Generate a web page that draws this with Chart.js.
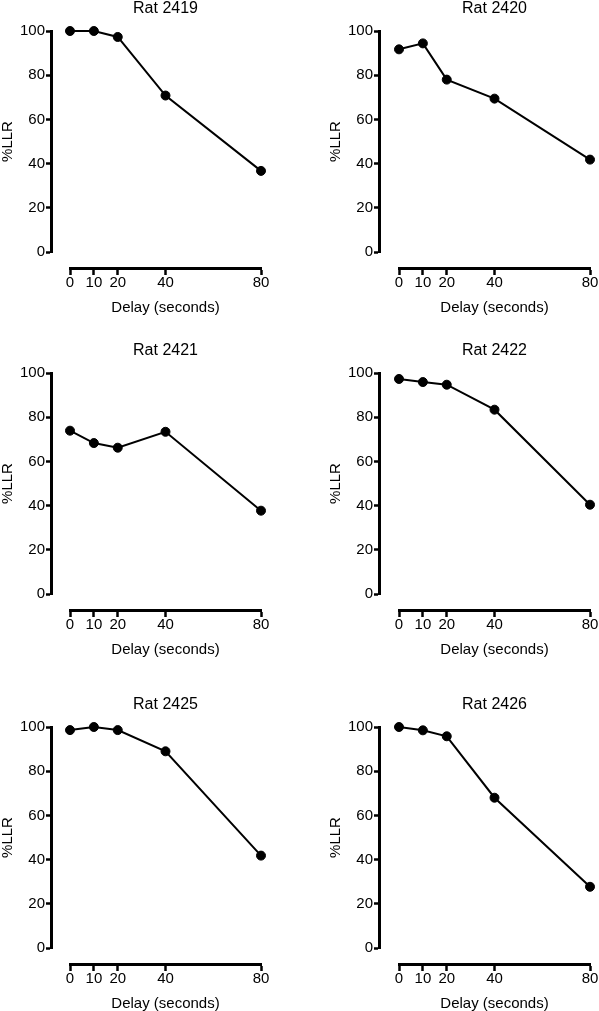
<!DOCTYPE html>
<html>
<head>
<meta charset="utf-8">
<script src="https://cdn.jsdelivr.net/npm/chart.js@4.4.1/dist/chart.umd.min.js"></script>
<style>
  html, body { margin: 0; padding: 0; background: #fff; }
  body { width: 599px; height: 1011px; overflow: hidden; position: relative; }
  canvas { position: absolute; }
</style>
</head>
<body>
<canvas id="p0" width="275" height="326"></canvas>
<canvas id="p1" width="275" height="326"></canvas>
<canvas id="p2" width="275" height="326"></canvas>
<canvas id="p3" width="275" height="326"></canvas>
<canvas id="p4" width="275" height="326"></canvas>
<canvas id="p5" width="275" height="326"></canvas>
<script>
// Datos
const delays = [0, 10, 20, 40, 80];
const xTickValues = [0, 10, 20, 40, 80];
const ratNames = ['Rat 2419', 'Rat 2420', 'Rat 2421', 'Rat 2422', 'Rat 2425', 'Rat 2426'];
const rat2419 = [100, 100, 97.3, 70.8, 36.7];
const rat2420 = [91.7, 94.4, 78.0, 69.4, 41.8];
const rat2421 = [73.9, 68.3, 66.2, 73.4, 37.7];
const rat2422 = [97.3, 95.9, 94.7, 83.4, 40.4];
const rat2425 = [98.6, 100, 98.6, 89.0, 41.8];
const rat2426 = [100, 98.5, 95.8, 68.0, 27.7];
const ratValues = [rat2419, rat2420, rat2421, rat2422, rat2425, rat2426];

const FONT = '"Liberation Sans", Arial, Helvetica, sans-serif';
const colLeft = [0, 329];
const colGap = [19, 20];       // separación entre el eje Y y el punto x=0
const rowTop = [-9, 333, 687];

// Desplaza el eje Y a la izquierda del área de datos (estilo Prism)
const shiftYAxis = {
    id: 'shiftYAxis',
    afterLayout(chart) {
        const gap = chart.options.plugins.shiftYAxis.gap;
        const y = chart.scales.y;
        y.left -= gap;
        y.right -= gap;
    }
};

function makePanel(i) {
    const canvas = document.getElementById('p' + i);
    const col = i % 2;
    canvas.style.left = colLeft[col] + 'px';
    canvas.style.top = rowTop[Math.floor(i / 2)] + 'px';

    const points = delays.map((d, k) => ({ x: d, y: ratValues[i][k] }));

    new Chart(canvas.getContext('2d'), {
        type: 'line',
        data: {
            datasets: [{
                data: points,
                borderColor: '#000',
                borderWidth: 2,
                pointBackgroundColor: '#000',
                pointBorderColor: '#000',
                pointBorderWidth: 1,
                pointRadius: 4.5,
                tension: 0,
                clip: false
            }]
        },
        plugins: [shiftYAxis],
        options: {
            responsive: false,
            animation: false,
            events: [],
            // área de datos empieza en x=70 (56 px de eje Y + 14 de margen)
            layout: { padding: { left: 14, right: 14, top: 0, bottom: 65 } },
            plugins: {
                shiftYAxis: { gap: colGap[col] },
                legend: { display: false },
                tooltip: { enabled: false },
                title: {
                    display: true,
                    fullSize: false,
                    text: ratNames[i],
                    color: '#000',
                    font: { family: FONT, size: 16, weight: 'normal' },
                    padding: { top: 8, bottom: 12.8 }
                }
            },
            scales: {
                x: {
                    type: 'linear',
                    min: 0, max: 80,
                    position: { y: -7.4 },
                    afterBuildTicks: (axis) => { axis.ticks = xTickValues.map(v => ({ value: v })); },
                    grid: { drawOnChartArea: false, drawTicks: true, tickLength: 5, tickWidth: 2.5, color: '#000' },
                    border: { display: true, color: '#000', width: 3 },
                    ticks: { color: '#000', font: { family: FONT, size: 15 }, padding: 1, maxRotation: 0, autoSkip: false },
                    title: { display: true, text: 'Delay (seconds)', color: '#000', font: { family: FONT, size: 15 }, padding: { top: 6 } }
                },
                y: {
                    type: 'linear',
                    position: 'left',
                    min: 0, max: 100,
                    afterFit: (s) => { s.width = 56; },
                    grid: { drawOnChartArea: false, drawTicks: true, tickLength: 5, tickWidth: 2.5, color: '#000' },
                    border: { display: true, color: '#000', width: 3 },
                    ticks: { stepSize: 20, color: '#000', font: { family: FONT, size: 15 }, padding: 1 },
                    title: { display: true, text: '%LLR', color: '#000', font: { family: FONT, size: 15 }, padding: 4 }
                }
            }
        }
    });
}

for (let i = 0; i < 6; i++) makePanel(i);
</script>
</body>
</html>
